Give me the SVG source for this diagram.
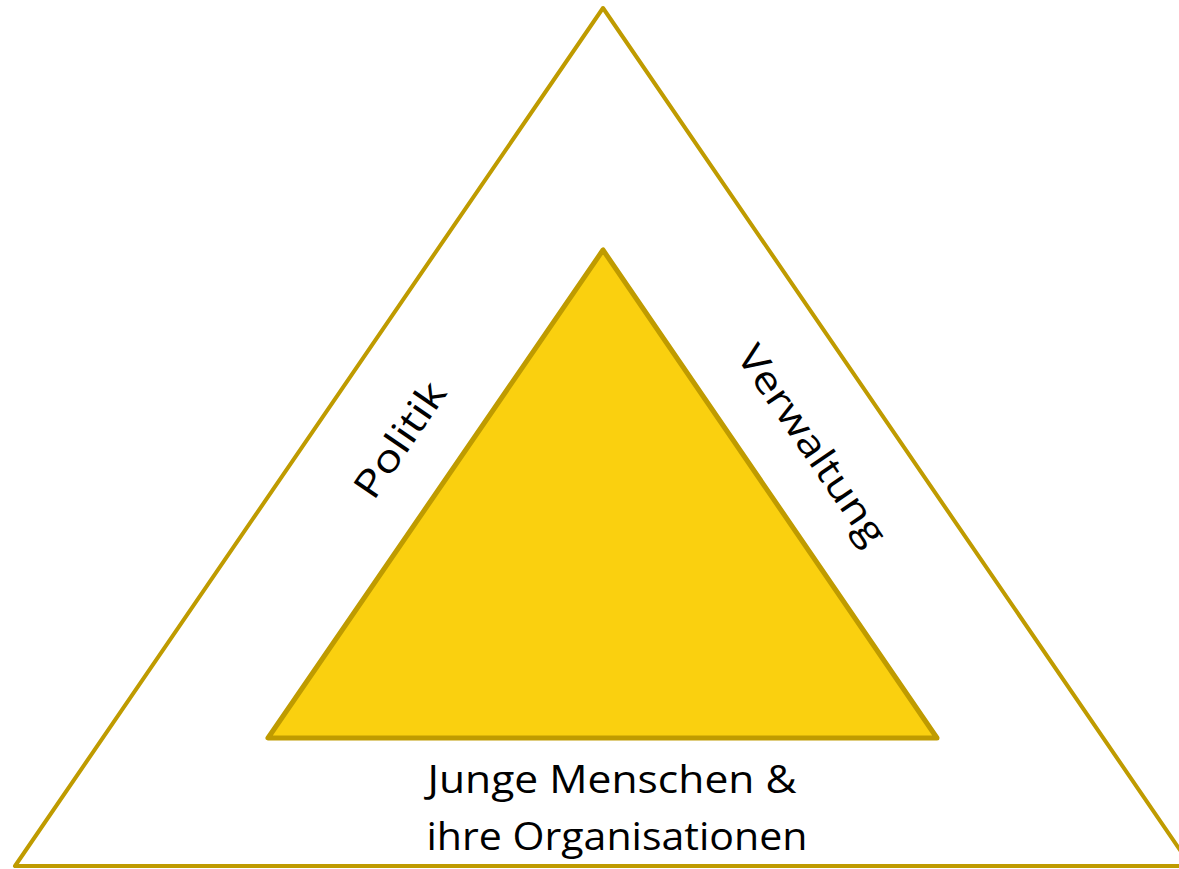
<svg xmlns="http://www.w3.org/2000/svg" width="1179" height="869" viewBox="0 0 1179 869">
<style>
.lbl{font-family:"Open Sans","Liberation Sans",sans-serif;font-size:38px;fill:#000}
</style>
<rect width="1179" height="869" fill="#fff"/>
<g id="outer">
<polygon points="603,8 15,866 1191,866" fill="none" stroke="#BF9B00" stroke-width="4" stroke-linejoin="round"/>
</g>
<g id="inner">
<polygon points="603,250 268,738 937,738" fill="#FAD00F" stroke="#BF9B00" stroke-width="5" stroke-linejoin="round"/>
</g>
<g id="connectors"></g>
<g id="label-politik">
<text class="lbl" text-anchor="middle" transform="translate(400,440) rotate(-55.6)" dy="13" textLength="132" lengthAdjust="spacingAndGlyphs">Politik</text>
</g>
<g id="label-verwaltung">
<text class="lbl" text-anchor="middle" transform="translate(812,445) rotate(55.6)" dy="13" textLength="233" lengthAdjust="spacingAndGlyphs">Verwaltung</text>
</g>
<g id="label-junge">
<text class="lbl" x="612" y="793" text-anchor="middle" textLength="369" lengthAdjust="spacingAndGlyphs">Junge Menschen &amp;</text>
<text class="lbl" x="617" y="850" text-anchor="middle" textLength="381" lengthAdjust="spacingAndGlyphs">ihre Organisationen</text>
</g>
</svg>
